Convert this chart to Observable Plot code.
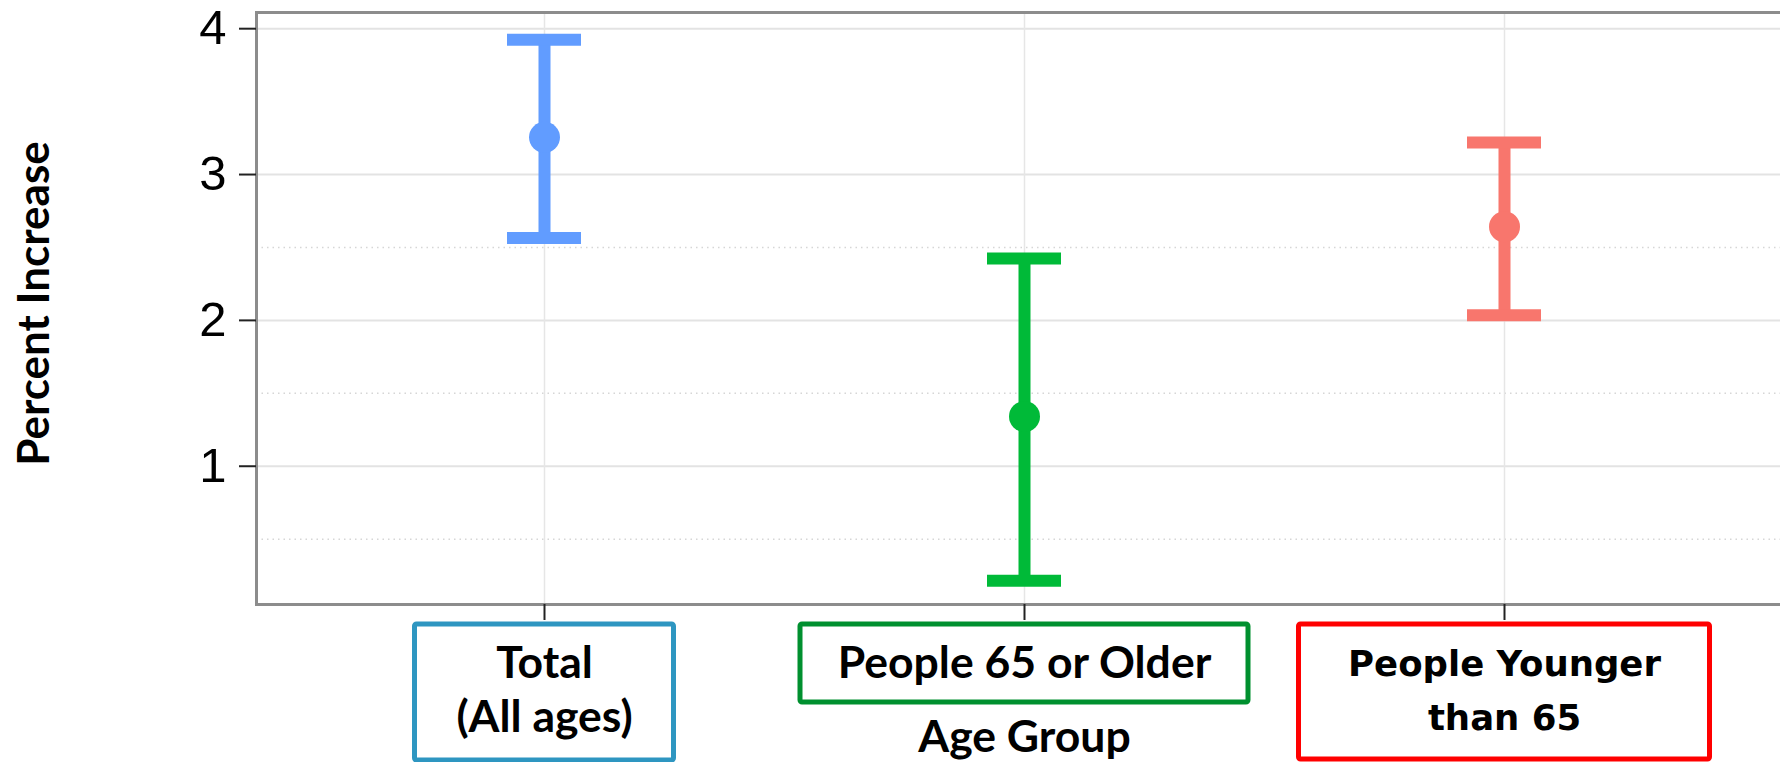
<!DOCTYPE html>
<html>
<head>
<meta charset="utf-8">
<script src="https://cdn.jsdelivr.net/npm/d3@7"></script>
<script src="https://cdn.jsdelivr.net/npm/@observablehq/plot@0.6"></script>
<style>
  html, body { margin: 0; padding: 0; background: #fff; overflow: hidden; }
  #chart { width: 1780px; height: 762px; overflow: hidden; }
</style>
</head>
<body>
<div id="chart"></div>
<script>
// ---- data ----
const categories = ["Total\n(All ages)", "People 65 or Older", "People Younger\nthan 65"];
const estimate = [3.255, 1.341, 2.642];
const lower = [2.565, 0.214, 2.036];
const upper = [3.924, 2.425, 3.220];
const seriesColors = ["#619CFF", "#00BA38", "#F8766D"];
const boxColors = ["#2E96C1", "#00902F", "#FF0000"];
const yTicks = [1, 2, 3, 4];
const minorTicks = [0.5, 1.5, 2.5];
const yTitle = "Percent Increase";
const xTitle = "Age Group";

const data = categories.map((c, i) => ({cat: c, est: estimate[i], lo: lower[i], hi: upper[i]}));

// ---- styles ----
const boxSize = [{w: 259, h: 136}, {w: 448, h: 78}, {w: 411, h: 135}];
const boxGap = 20;
const labelFont = "Lato, 'Open Sans', sans-serif";
const redLabelFont = "'DejaVu Sans', Verdana, sans-serif";

function labelBoxes(index, scales, values, dims) {
  const g = d3.create("svg:g").attr("fill", "none").attr("stroke-width", 5);
  const sx = scales.x;
  const bw = typeof sx.bandwidth === "function" ? sx.bandwidth() : (sx.bandwidth || 0);
  const top = dims.height - dims.marginBottom + boxGap;
  categories.forEach((c, i) => {
    const cx = sx(c) + bw / 2;
    g.append("rect")
      .attr("x", cx - boxSize[i].w / 2)
      .attr("y", top)
      .attr("width", boxSize[i].w)
      .attr("height", boxSize[i].h)
      .attr("rx", 2)
      .attr("stroke", boxColors[i]);
  });
  return g.node();
}

const chart = Plot.plot({
  width: 1780,
  height: 762,
  marginLeft: 256,
  marginTop: 12,
  marginBottom: 158,
  marginRight: -12,
  style: {background: "white", color: "black", fontFamily: "'Liberation Sans', Arial, sans-serif", overflow: "visible"},
  x: {type: "band", domain: categories, paddingInner: 0.846, paddingOuter: 0.523},
  y: {domain: [0.052, 4.111]},
  color: {domain: categories, range: seriesColors},
  marks: [
    Plot.ruleY(minorTicks, {stroke: "#d6d6d6", strokeWidth: 1.5, strokeDasharray: "1.5,4"}),
    Plot.gridY(yTicks, {stroke: "#e3e3e3", strokeOpacity: 1, strokeWidth: 2}),
    Plot.gridX(categories, {stroke: "#e6e6e6", strokeOpacity: 1, strokeWidth: 1.5}),
    Plot.frame({stroke: "#8c8c8c", strokeWidth: 3}),
    Plot.ruleX(data, {x: "cat", y1: "lo", y2: "hi", stroke: "cat", strokeWidth: 12}),
    Plot.tickY(data, {x: "cat", y: "hi", stroke: "cat", strokeWidth: 12}),
    Plot.tickY(data, {x: "cat", y: "lo", stroke: "cat", strokeWidth: 12}),
    Plot.dot(data, {x: "cat", y: "est", fill: "cat", r: 15.5}),
    Plot.axisY(yTicks, {tickSize: 17, tickPadding: 13, fontSize: 49, tickFormat: d3.format("d"), stroke: "#222", strokeWidth: 2, label: null}),
    Plot.axisX({tickSize: 16, tickFormat: () => "", stroke: "#222", strokeWidth: 2, label: null}),
    Plot.text([yTitle], {frameAnchor: "left", textAnchor: "middle", lineAnchor: "middle", dx: -222, dy: -5, rotate: -90, fontSize: 44, fontWeight: "bold", fontFamily: labelFont, fill: "black"}),
    Plot.text([xTitle], {frameAnchor: "bottom", textAnchor: "middle", dy: 116, lineAnchor: "top", fontSize: 44.5, fontWeight: "bold", fontFamily: labelFont, fill: "black"}),
    Plot.text(data.filter((d, i) => i < 2), {x: "cat", text: "cat", frameAnchor: "bottom", textAnchor: "middle", dy: 36, lineAnchor: "top", lineHeight: 1.2, fontSize: 44.5, fontWeight: "bold", fontFamily: labelFont, fill: "black"}),
    Plot.text(data.filter((d, i) => i === 2), {x: "cat", text: "cat", frameAnchor: "bottom", textAnchor: "middle", dy: 34, lineAnchor: "top", lineHeight: 1.5, fontSize: 35.5, fontWeight: "bold", fontFamily: redLabelFont, fill: "black"}),
    labelBoxes
  ]
});
document.getElementById("chart").appendChild(chart);
</script>
</body>
</html>
